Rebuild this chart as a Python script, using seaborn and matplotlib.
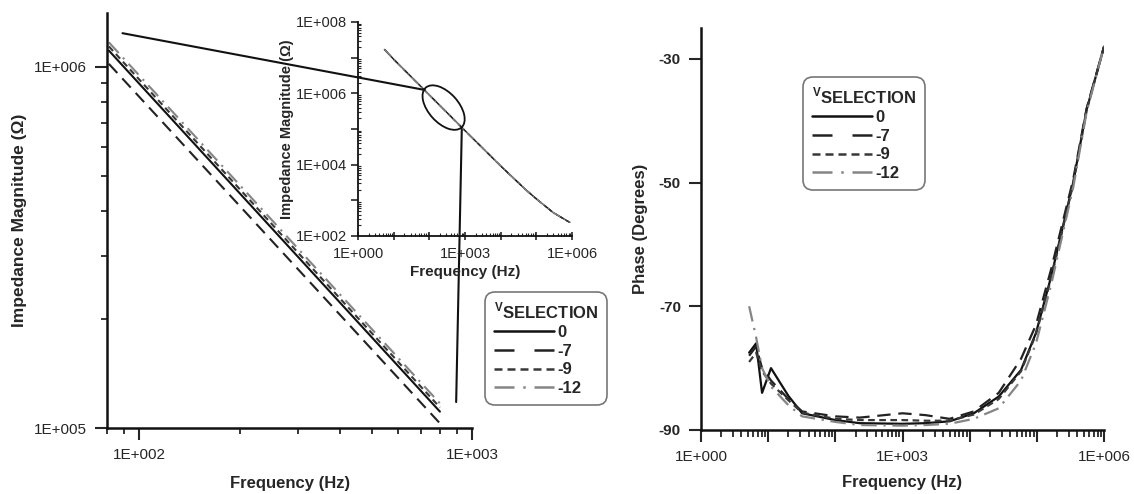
import numpy as np
import pandas as pd
import matplotlib
matplotlib.use('Agg')
import matplotlib.pyplot as plt
import seaborn as sns
from matplotlib.ticker import FixedLocator, LogLocator, FuncFormatter, NullFormatter
from matplotlib.patches import Ellipse, ConnectionPatch
from matplotlib.lines import Line2D

# V_SELECTION levels
v_levels = ['0', '-7', '-9', '-12']

# zoomed impedance (main left panel), two points per straight log-log line
f_main = [81, 800]
z_main = {
    '0': [1.11e6, 1.11e5],
    '-7': [1.02e6, 1.03e5],
    '-9': [1.14e6, 1.14e5],
    '-12': [1.17e6, 1.17e5],
}

# full-range impedance (inset), all four curves lie on top of each other
f_inset = [5.5, 10, 100, 1e3, 1e4, 5e4, 1e5, 3e5, 8.7e5]
z_inset = [1.7e7, 9.0e6, 9.0e5, 9.0e4, 9.2e3, 2.0e3, 1.1e3, 4.5e2, 2.4e2]

# phase (right panel)
f_phase = [5.2, 6.6, 8.1, 11, 20, 32, 100, 230, 1000, 2200, 5000, 11500,
           27000, 58000, 97000, 163000, 347000, 550000, 1e6]
phase = {
    '0': [-77.5, -76, -84, -80, -84.5, -87.3, -88.4, -88.9, -89.0, -88.9, -88.6,
          -87.3, -84.6, -80.3, -74.3, -65.2, -50.0, -38.2, -28],
    '-7': [-78, -76.5, -80, -82, -85, -87, -87.8, -88, -87.3, -87.6, -88.2,
           -87, -84, -78.5, -73, -64, -49.5, -38, -28],
    '-9': [-79, -77.5, -80.5, -82.5, -85.2, -87.2, -88.2, -88.4, -88.4, -88.5, -88.5,
           -87.5, -85, -80.5, -74.5, -65.5, -50.2, -38.3, -28],
    '-12': [-70, -75, -80, -83, -86, -87.8, -88.7, -89.2, -89.3, -89.2, -89.0,
            -88.2, -86.5, -82, -76, -66.5, -50.8, -38.6, -28],
}

palette = {'0': '#111111', '-7': '#222222', '-9': '#383838', '-12': '#858585'}
dashes = {'0': '', '-7': (6, 3.5), '-9': (3, 2), '-12': (7, 3, 1, 3)}
legend_dashes = {'0': None, '-7': (8, 8), '-9': (3.2, 2), '-12': (8, 3.5, 1, 3.5)}

sns.set_style('ticks')
plt.rcParams['font.family'] = ['Liberation Sans', 'DejaVu Sans']
plt.rcParams['mathtext.fontset'] = 'custom'
plt.rcParams['mathtext.rm'] = 'Liberation Sans'
plt.rcParams['mathtext.bf'] = 'Liberation Sans:bold'
plt.rcParams['axes.unicode_minus'] = False


def long_df(x, ys):
    rows = []
    for v in v_levels:
        for xi, yi in zip(x, ys[v]):
            rows.append({'f': xi, 'val': yi, 'vsel': v})
    return pd.DataFrame(rows)


def exp_fmt(step):
    def fmt(v, pos):
        e = int(round(np.log10(v)))
        return f'1E+{e:03d}' if e % step == 0 else ''
    return FuncFormatter(fmt)


def style_axis(ax):
    sns.despine(ax=ax)
    for s in ['left', 'bottom']:
        ax.spines[s].set_linewidth(1.8)
        ax.spines[s].set_color('#111111')


def draw(ax, df, lw):
    sns.lineplot(data=df, x='f', y='val', hue='vsel', style='vsel',
                 hue_order=v_levels, style_order=v_levels, palette=palette,
                 dashes=dashes, estimator=None, sort=False, legend=False,
                 linewidth=lw, ax=ax)


def add_legend(ax, fig, anchor):
    handles = []
    for v in v_levels:
        h = Line2D([], [], color=palette[v], lw=1.8)
        if legend_dashes[v] is not None:
            h.set_dashes(legend_dashes[v])
        handles.append(h)
    leg = ax.legend(handles, v_levels, title=r'${}^{\mathbf{V}}\mathbf{SELECTION}$',
                    loc='upper left', bbox_to_anchor=anchor, bbox_transform=fig.transFigure,
                    frameon=True, fancybox=True, handlelength=3.6, handletextpad=0.2,
                    labelspacing=0.22, borderpad=0.45, alignment='left',
                    prop={'weight': 'bold', 'size': 12},
                    title_fontproperties={'weight': 'bold', 'size': 12})
    fr = leg.get_frame()
    fr.set_edgecolor('#555555')
    fr.set_linewidth(1.2)
    fr.set_boxstyle('round,pad=0.1,rounding_size=0.6')
    leg.set_zorder(20)
    return leg


fig = plt.figure(figsize=(11.34, 4.94), dpi=100)

# ---- left main: zoomed impedance magnitude ----
ax = fig.add_axes([0.0944, 0.1336, 0.322, 0.840])
draw(ax, long_df(f_main, z_main), 1.5)
ax.set_xscale('log')
ax.set_yscale('log')
ax.set_xlim(80, 1000)
ax.set_ylim(1e5, 1.41e6)
ax.xaxis.set_major_locator(FixedLocator([1e2, 1e3]))
ax.xaxis.set_major_formatter(exp_fmt(1))
ax.xaxis.set_minor_locator(LogLocator(base=10, subs=np.arange(2, 10)))
ax.xaxis.set_minor_formatter(NullFormatter())
ax.yaxis.set_major_locator(FixedLocator([1e5, 1e6]))
ax.yaxis.set_major_formatter(exp_fmt(1))
ax.yaxis.set_minor_locator(LogLocator(base=10, subs=np.arange(2, 10)))
ax.yaxis.set_minor_formatter(NullFormatter())
style_axis(ax)
ax.tick_params(which='major', length=8.5, width=1.5, labelsize=11, pad=6)
ax.tick_params(which='minor', length=4, width=1.3)
ax.set_xlabel('Frequency (Hz)', fontsize=12, fontweight='bold', labelpad=10)
ax.set_ylabel('Impedance Magnitude (\u03a9)', fontsize=12.5, fontweight='bold', labelpad=5)

# ---- inset: full range impedance magnitude ----
axin = fig.add_axes([0.3157, 0.5223, 0.1887, 0.4332])
axin.set_facecolor('none')
axin.set_zorder(5)
inset_df = pd.DataFrame({
    'f': np.tile(f_inset, len(v_levels)),
    'val': np.tile(z_inset, len(v_levels)),
    'vsel': np.repeat(v_levels, len(f_inset)),
})
draw(axin, inset_df, 1.0)
axin.set_xscale('log')
axin.set_yscale('log')
axin.set_xlim(1, 1e6)
axin.set_ylim(1e2, 1e8)
axin.xaxis.set_major_locator(LogLocator(base=10, numticks=10))
axin.xaxis.set_major_formatter(exp_fmt(3))
axin.xaxis.set_minor_locator(LogLocator(base=10, subs=np.arange(2, 10), numticks=10))
axin.xaxis.set_minor_formatter(NullFormatter())
axin.yaxis.set_major_locator(LogLocator(base=10, numticks=10))
axin.yaxis.set_major_formatter(exp_fmt(2))
axin.yaxis.set_minor_locator(LogLocator(base=10, subs=np.arange(2, 10), numticks=10))
axin.yaxis.set_minor_formatter(NullFormatter())
style_axis(axin)
for s in ['left', 'bottom']:
    axin.spines[s].set_linewidth(1.3)
axin.tick_params(which='major', length=5, width=1.2, labelsize=10.5, pad=3)
axin.tick_params(axis='x', which='major', direction='inout', length=6, pad=5)
axin.tick_params(which='minor', length=2.5, width=0.8, direction='in')
axin.set_xlabel('Frequency (Hz)', fontsize=11, fontweight='bold', labelpad=3)
axin.set_ylabel('Impedance Magnitude (\u03a9)', fontsize=10.5, fontweight='bold', labelpad=1)

# zoom ellipse and connector lines
axin.add_patch(Ellipse((0.40, 0.60), 0.25, 0.14, angle=-48, transform=axin.transAxes,
                       fill=False, lw=1.3, color='#111111', zorder=6))
con1 = ConnectionPatch(xyA=(89, 1.24e6), coordsA=ax.transData,
                       xyB=(75, 1.24e6), coordsB=axin.transData, lw=1.5, color='#111111')
con2 = ConnectionPatch(xyA=(895, 1.18e5), coordsA=ax.transData,
                       xyB=(815, 1.15e5), coordsB=axin.transData, lw=1.5, color='#111111')
fig.add_artist(con1)
fig.add_artist(con2)

add_legend(ax, fig, (0.4215, 0.4231))

# ---- right: phase ----
axp = fig.add_axes([0.6182, 0.1296, 0.3554, 0.8138])
draw(axp, long_df(f_phase, phase), 1.6)
axp.set_xscale('log')
axp.set_xlim(1, 1e6)
axp.set_ylim(-90, -25)
axp.set_yticks([-90, -70, -50, -30])
axp.xaxis.set_major_locator(LogLocator(base=10, numticks=10))
axp.xaxis.set_major_formatter(exp_fmt(3))
axp.xaxis.set_minor_locator(LogLocator(base=10, subs=np.arange(2, 10), numticks=10))
axp.xaxis.set_minor_formatter(NullFormatter())
style_axis(axp)
axp.tick_params(which='major', length=8.5, width=1.5, labelsize=11, pad=6)
axp.tick_params(which='minor', length=5, width=1.3)
for t in axp.get_yticklabels():
    t.set_fontweight('bold')
axp.set_xlabel('Frequency (Hz)', fontsize=12, fontweight='bold', labelpad=8)
axp.set_ylabel('Phase (Degrees)', fontsize=12, fontweight='bold', labelpad=8)
add_legend(axp, fig, (0.7019, 0.8583))

fig.savefig('out.png', dpi=100)
